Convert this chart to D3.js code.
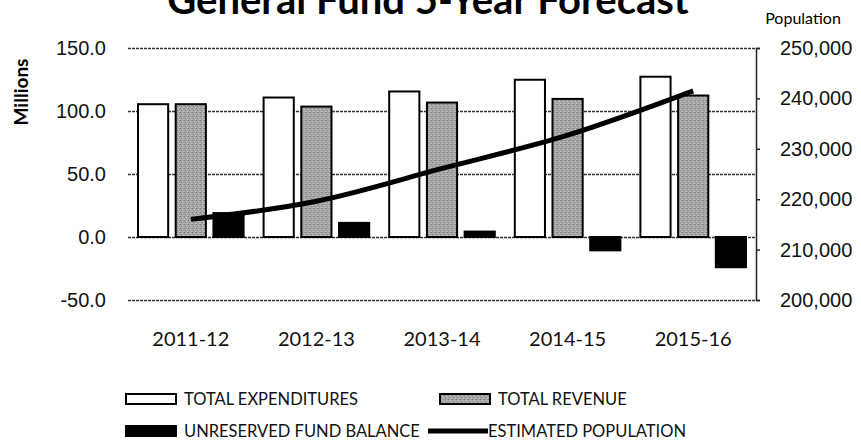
<!DOCTYPE html>
<html>
<head>
<meta charset="utf-8">
<script src="https://cdn.jsdelivr.net/npm/d3@7"></script>
<style>
  body { margin: 0; background: #fff; }
  svg { display: block; font-family: Lato, "DejaVu Sans", sans-serif; }
</style>
</head>
<body>
<div id="chart"></div>
<script>
// values
const years = ['2011-12', '2012-13', '2013-14', '2014-15', '2015-16'];
const expenditures = [105.4, 110.7, 115.5, 124.8, 127.2];
const revenue = [105.4, 103.5, 106.7, 109.6, 112.3];
const fundBalance = [19.0, 11.2, 4.3, -10.6, -24.0];
const population = [216000, 219600, 226100, 232700, 241500];
const leftTicks = [-50, 0, 50, 100, 150];
const rightTicks = [200000, 210000, 220000, 230000, 240000, 250000];
const barSeries = ['TOTAL EXPENDITURES', 'TOTAL REVENUE', 'UNRESERVED FUND BALANCE'];
const lineSeries = 'ESTIMATED POPULATION';

const W = 861, H = 447;
const margin = { top: 48, right: 105, bottom: 147, left: 128 };
const innerW = W - margin.left - margin.right;
const innerH = H - margin.top - margin.bottom;

const svg = d3.select('#chart').append('svg')
  .attr('width', W)
  .attr('height', H);

// stippled grey like the scanned revenue bars
const defs = svg.append('defs');
const pat = defs.append('pattern')
  .attr('id', 'stipple')
  .attr('width', 4).attr('height', 4)
  .attr('patternUnits', 'userSpaceOnUse');
pat.append('rect').attr('width', 4).attr('height', 4).attr('fill', '#a4a4a4');
[[0, 0, '#7a7a7a'], [2, 1, '#cfcfcf'], [1, 2, '#8a8a8a'], [3, 3, '#c4c4c4'], [3, 0, '#959595'], [0, 3, '#b8b8b8']]
  .forEach(p => pat.append('rect').attr('x', p[0]).attr('y', p[1]).attr('width', 1).attr('height', 1).attr('fill', p[2]));

const fills = {
  'TOTAL EXPENDITURES': '#fff',
  'TOTAL REVENUE': 'url(#stipple)',
  'UNRESERVED FUND BALANCE': '#000'
};

const g = svg.append('g')
  .attr('transform', `translate(${margin.left},${margin.top})`);

const x0 = d3.scaleBand()
  .domain(years)
  .range([0, innerW]);

const x1 = d3.scaleBand()
  .domain(barSeries)
  .range([10, x0.bandwidth() - 10])
  .paddingInner(0.2);

const yL = d3.scaleLinear()
  .domain([-50, 150])
  .range([innerH, 0]);

const yR = d3.scaleLinear()
  .domain([200000, 250000])
  .range([innerH, 0]);

// left axis + gridlines
const leftAxis = g.append('g')
  .call(d3.axisLeft(yL)
    .tickValues(leftTicks)
    .tickFormat(d => d.toFixed(1))
    .tickSize(-innerW)
    .tickPadding(22));
leftAxis.select('.domain').remove();
leftAxis.selectAll('.tick line')
  .attr('stroke', '#333')
  .attr('stroke-width', 1.5)
  .attr('stroke-dasharray', '3,1');
leftAxis.selectAll('.tick text')
  .attr('font-size', 20)
  .attr('fill', '#111');

// right axis
const rightAxis = g.append('g')
  .attr('transform', `translate(${innerW},0)`)
  .call(d3.axisRight(yR)
    .tickValues(rightTicks)
    .tickFormat(d3.format(','))
    .tickSize(4)
    .tickSizeOuter(4)
    .tickPadding(20));
rightAxis.select('.domain').attr('stroke', '#222').attr('stroke-width', 1.5);
rightAxis.selectAll('.tick line').attr('stroke', '#222').attr('stroke-width', 1.5);
rightAxis.selectAll('.tick text')
  .attr('font-size', 20)
  .attr('fill', '#111');

// bars
const rows = years.map((y, i) => ({
  year: y,
  vals: [expenditures[i], revenue[i], fundBalance[i]]
}));

const groups = g.selectAll('.grp')
  .data(rows)
  .enter()
  .append('g')
  .attr('class', 'grp')
  .attr('transform', d => `translate(${x0(d.year)},0)`);

groups.selectAll('rect')
  .data(d => d.vals.map((v, j) => ({ key: barSeries[j], v: v })))
  .enter()
  .append('rect')
  .attr('x', d => x1(d.key))
  .attr('width', x1.bandwidth())
  .attr('y', d => yL(Math.max(d.v, 0)))
  .attr('height', d => Math.abs(yL(d.v) - yL(0)))
  .attr('fill', d => fills[d.key])
  .attr('stroke', '#000')
  .attr('stroke-width', 2);

// population line
const line = d3.line()
  .x((d, i) => x0(years[i]) + x0.bandwidth() / 2)
  .y(d => yR(d))
  .curve(d3.curveMonotoneX);

g.append('path')
  .datum(population)
  .attr('d', line)
  .attr('fill', 'none')
  .attr('stroke', '#000')
  .attr('stroke-width', 5);

// category labels
g.selectAll('.xlab')
  .data(years)
  .enter()
  .append('text')
  .attr('class', 'xlab')
  .attr('x', d => x0(d) + x0.bandwidth() / 2)
  .attr('y', innerH + 46)
  .attr('text-anchor', 'middle')
  .attr('font-size', 20)
  .attr('fill', '#111')
  .text(d => d);

// titles (the main title sits half off the top, as in the scan)
svg.append('text')
  .attr('x', 428)
  .attr('y', 14)
  .attr('text-anchor', 'middle')
  .attr('font-size', 40)
  .attr('font-weight', 'bold')
  .text('General Fund 5-Year Forecast');

svg.append('text')
  .attr('transform', 'translate(28,92) rotate(-90)')
  .attr('text-anchor', 'middle')
  .attr('font-size', 19)
  .attr('font-weight', 'bold')
  .text('Millions');

svg.append('text')
  .attr('x', 803)
  .attr('y', 24)
  .attr('text-anchor', 'middle')
  .attr('font-size', 16)
  .text('Population');

// legend
const legendItems = [
  { name: barSeries[0], x: 126, y: 399, type: 'bar' },
  { name: barSeries[1], x: 440, y: 399, type: 'bar' },
  { name: barSeries[2], x: 126, y: 431, type: 'bar' },
  { name: lineSeries, x: 428, y: 431, type: 'line' }
];

const leg = svg.selectAll('.leg')
  .data(legendItems)
  .enter()
  .append('g')
  .attr('class', 'leg')
  .attr('transform', d => `translate(${d.x},${d.y})`);

leg.filter(d => d.type === 'bar')
  .append('rect')
  .attr('x', 0)
  .attr('y', -5)
  .attr('width', 50)
  .attr('height', 10)
  .attr('fill', d => fills[d.name])
  .attr('stroke', '#000')
  .attr('stroke-width', 2);

leg.filter(d => d.type === 'line')
  .append('line')
  .attr('x1', 0).attr('x2', 60)
  .attr('y1', 0).attr('y2', 0)
  .attr('stroke', '#000')
  .attr('stroke-width', 5);

leg.append('text')
  .attr('x', d => d.type === 'bar' ? 58 : 60)
  .attr('y', 0)
  .attr('dy', '0.35em')
  .attr('font-size', 16.5)
  .attr('fill', '#111')
  .text(d => d.name);
</script>
</body>
</html>
